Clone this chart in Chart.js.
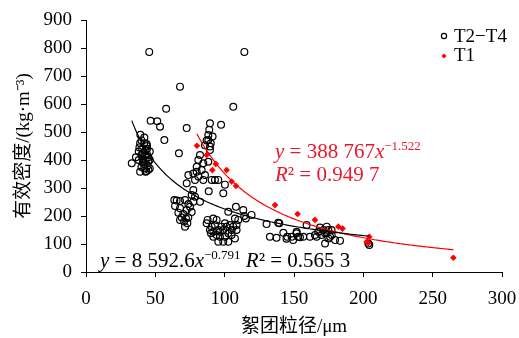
<!DOCTYPE html>
<html>
<head>
<meta charset="utf-8">
<script src="https://cdn.jsdelivr.net/npm/chart.js@4"></script>
<style>
  html, body { margin: 0; padding: 0; background: #fff; }
</style>
</head>
<body>
<canvas id="chart" width="519" height="338"></canvas>
<script>
// T2-T4 samples [floc size µm, effective density kg/m3]
const t24Points = [
    [45.6, 786], [114.2, 786], [67.8, 662], [57.8, 583], [106.2, 590], [46.6, 540], [51.4, 538],
    [53.4, 519], [72.6, 514], [56.5, 471], [67, 424], [89.4, 531], [97.4, 526], [88.9, 508],
    [88.2, 489], [91.3, 484], [87, 470], [89.4, 448], [90, 460],
    [39.2, 490], [42.1, 480], [43.7, 457], [33, 388], [36, 410], [38, 430], [38.5, 445], [39, 460],
    [40, 470], [40.5, 440], [41, 425], [41, 405], [41.5, 395], [42, 385], [42, 370], [42.5, 415],
    [43, 435], [43, 400], [43.5, 360], [44, 450], [44, 420], [44.5, 380], [45, 395], [45, 410],
    [46, 430], [46, 370], [39, 358], [43, 358], [40, 375], [41, 390], [44, 440], [42, 460],
    [40, 418], [46, 400], [38, 400], [45, 365],
    [88.2, 471], [85.8, 453], [89.4, 436], [82.2, 418], [81, 400], [84.6, 388], [88.2, 394],
    [79.8, 376], [83.4, 364], [77.4, 352], [81, 341], [84.6, 329], [78.6, 329], [90.6, 329],
    [93, 329], [73.8, 346], [72.6, 317], [77.4, 293], [76.2, 275], [82.2, 251], [78.6, 269],
    [88.5, 288], [100.2, 312], [99, 281], [95.4, 329], [85.8, 346], [79.8, 358],
    [65.4, 255], [67.8, 254], [71.4, 257], [73.8, 243], [64.2, 236], [67.8, 228], [72.6, 221],
    [75, 233], [66.6, 212], [70.2, 207], [72.1, 191], [73.1, 174], [70.7, 180], [69, 195],
    [73.8, 195], [71.4, 162], [67.8, 186], [76.2, 214], [63.7, 257], [77.4, 251],
    [87.7, 186], [91.8, 191], [94.2, 186], [93, 168], [90.6, 162], [89.4, 150], [91.8, 144],
    [95.4, 150], [97.8, 162], [99, 150], [101.4, 162], [103.8, 168], [106.2, 162], [108.6, 150],
    [105, 150], [102.6, 138], [100.2, 126], [96.6, 126], [94.2, 132], [91.8, 126], [95.4, 108],
    [99, 108], [102.6, 108], [107.4, 120], [108.6, 168], [109.8, 186], [107.4, 191], [90.1, 138],
    [96.6, 144], [100.2, 174], [105, 132], [87, 174],
    [102.6, 215], [108.1, 233], [113.4, 221], [114.1, 200], [119.4, 204], [115.3, 191],
    [130.2, 171], [138.6, 176], [132.6, 126], [137.4, 122], [144.6, 119], [149.4, 114],
    [151.8, 138], [153, 126],
    [139.4, 174], [142.3, 140], [145.1, 126], [148.3, 126], [151.9, 144], [154.3, 124],
    [159.1, 168], [161.5, 126], [165.1, 132], [168.7, 159], [171.2, 150], [173.6, 138],
    [176, 126], [177.1, 150], [174.8, 120], [172.4, 102], [179.6, 114], [183.2, 112],
    [203.6, 102], [204.3, 96], [167.5, 144], [169.9, 132], [174.8, 150], [177.2, 132],
    [166.3, 126], [156.7, 126], [173.6, 162], [172.4, 138]
];

// T1 samples
const t1Points = [
    [80, 451], [87, 418], [93.6, 386], [91.1, 364], [101.4, 364], [105, 323], [108.2, 307],
    [136.3, 239], [152.6, 207], [165.1, 186], [182, 162], [185, 155], [204.3, 126],
    [202.4, 108], [203.6, 103], [264.9, 51]
];

// power fits printed on the chart: y = a * x^b
const t24Fit = { a: 8592.6, b: -0.791, from: 33, to: 204 };
const t1Fit = { a: 388767, b: -1.522, from: 80, to: 265 };

const xTicks = [0, 50, 100, 150, 200, 250, 300];
const yTicks = [0, 100, 200, 300, 400, 500, 600, 700, 800, 900];

const serif = "'Liberation Serif', 'Times New Roman', 'Noto Sans CJK SC', serif";
const red = '#ff0000';
const redText = '#e8192c';

function fitCurve(f) {
    const pts = [];
    for (let x = f.from; x <= f.to; x += 1) pts.push({ x: x, y: f.a * Math.pow(x, f.b) });
    return pts;
}

function drawRuns(ctx, x, y, runs, size, color) {
    ctx.fillStyle = color;
    ctx.textAlign = 'left';
    ctx.textBaseline = 'alphabetic';
    runs.forEach(r => {
        const s = r.sup ? size * 0.62 : size;
        ctx.font = (r.it ? 'italic ' : '') + s + 'px ' + serif;
        ctx.fillText(r.t, x, r.sup ? y - size * 0.4 : y);
        x += ctx.measureText(r.t).width;
    });
}

// equations and legend drawn on top
const extras = {
    id: 'extras',
    afterDraw(chart) {
        const ctx = chart.ctx;
        ctx.save();
        drawRuns(ctx, 100, 267, [
            { t: 'y', it: 1 }, { t: ' = 8 592.6' }, { t: 'x', it: 1 }, { t: '−0.791', sup: 1 },
            { t: ' ' }, { t: 'R', it: 1 }, { t: '² = 0.565 3' }
        ], 21, '#000');
        drawRuns(ctx, 275, 158, [
            { t: 'y', it: 1 }, { t: ' = 388 767' }, { t: 'x', it: 1 }, { t: '−1.522', sup: 1 }
        ], 21, redText);
        drawRuns(ctx, 275, 181, [
            { t: 'R', it: 1 }, { t: '² = 0.949 7' }
        ], 21, redText);

        // legend
        ctx.beginPath();
        ctx.arc(444, 36, 2.6, 0, Math.PI * 2);
        ctx.lineWidth = 1.2;
        ctx.strokeStyle = '#000';
        ctx.stroke();
        ctx.beginPath();
        ctx.moveTo(441.5, 56); ctx.lineTo(444, 53.5); ctx.lineTo(446.5, 56); ctx.lineTo(444, 58.5);
        ctx.closePath();
        ctx.fillStyle = red;
        ctx.fill();
        ctx.font = '19px ' + serif;
        ctx.fillStyle = '#000';
        ctx.textBaseline = 'middle';
        ctx.fillText('T2−T4', 454, 37);
        ctx.fillText('T1', 454, 56);
        ctx.restore();
    }
};

const ctx = document.querySelector('#chart').getContext('2d');
const chart = new Chart(ctx, {
    type: 'scatter',
    data: {
        datasets: [{
            label: 'T2−T4 fit',
            type: 'line',
            data: fitCurve(t24Fit),
            borderColor: '#000',
            borderWidth: 1.2,
            pointRadius: 0,
            tension: 0,
            order: 0
        }, {
            label: 'T1 fit',
            type: 'line',
            data: fitCurve(t1Fit),
            borderColor: red,
            borderWidth: 1.2,
            pointRadius: 0,
            tension: 0,
            order: 1
        }, {
            label: 'T1',
            data: t1Points.map(p => ({ x: p[0], y: p[1] })),
            pointStyle: 'rectRot',
            pointRadius: 3.3,
            backgroundColor: red,
            borderWidth: 0,
            order: 2
        }, {
            label: 'T2−T4',
            data: t24Points.map(p => ({ x: p[0], y: p[1] })),
            pointStyle: 'circle',
            pointRadius: 3.4,
            borderColor: '#000',
            borderWidth: 1.2,
            backgroundColor: 'rgba(255,255,255,0)',
            order: 3
        }]
    },
    options: {
        responsive: false,
        animation: false,
        layout: { padding: { top: 20, right: 17, left: 0, bottom: 0 } },
        plugins: {
            legend: { display: false },
            tooltip: { enabled: false }
        },
        scales: {
            x: {
                type: 'linear',
                min: 0,
                max: 300,
                afterFit: s => { s.height = 66; s.paddingRight = 0; s.paddingLeft = 0; },
                afterBuildTicks: s => { s.ticks = xTicks.map(v => ({ value: v })); },
                ticks: { color: '#000', padding: 11, maxRotation: 0, font: { family: serif, size: 19 } },
                grid: { drawOnChartArea: false, drawTicks: true, tickLength: 5, color: '#000' },
                border: { display: true, color: '#000', width: 1 },
                title: {
                    display: true,
                    text: '絮团粒径/μm',
                    color: '#000',
                    padding: { top: 0, bottom: 0 },
                    font: { family: serif, size: 19 }
                }
            },
            y: {
                type: 'linear',
                min: 0,
                max: 900,
                afterFit: s => { s.width = 86; s.paddingTop = 0; s.paddingBottom = 0; },
                afterBuildTicks: s => { s.ticks = yTicks.map(v => ({ value: v })); },
                ticks: { color: '#000', padding: 9, font: { family: serif, size: 19 } },
                grid: { drawOnChartArea: false, drawTicks: true, tickLength: 5, color: '#000' },
                border: { display: true, color: '#000', width: 1 },
                title: {
                    display: true,
                    text: '有效密度/(kg·m⁻³)',
                    color: '#000',
                    padding: { top: 13, bottom: 0 },
                    font: { family: serif, size: 19 }
                }
            }
        }
    },
    plugins: [extras]
});
</script>
</body>
</html>
